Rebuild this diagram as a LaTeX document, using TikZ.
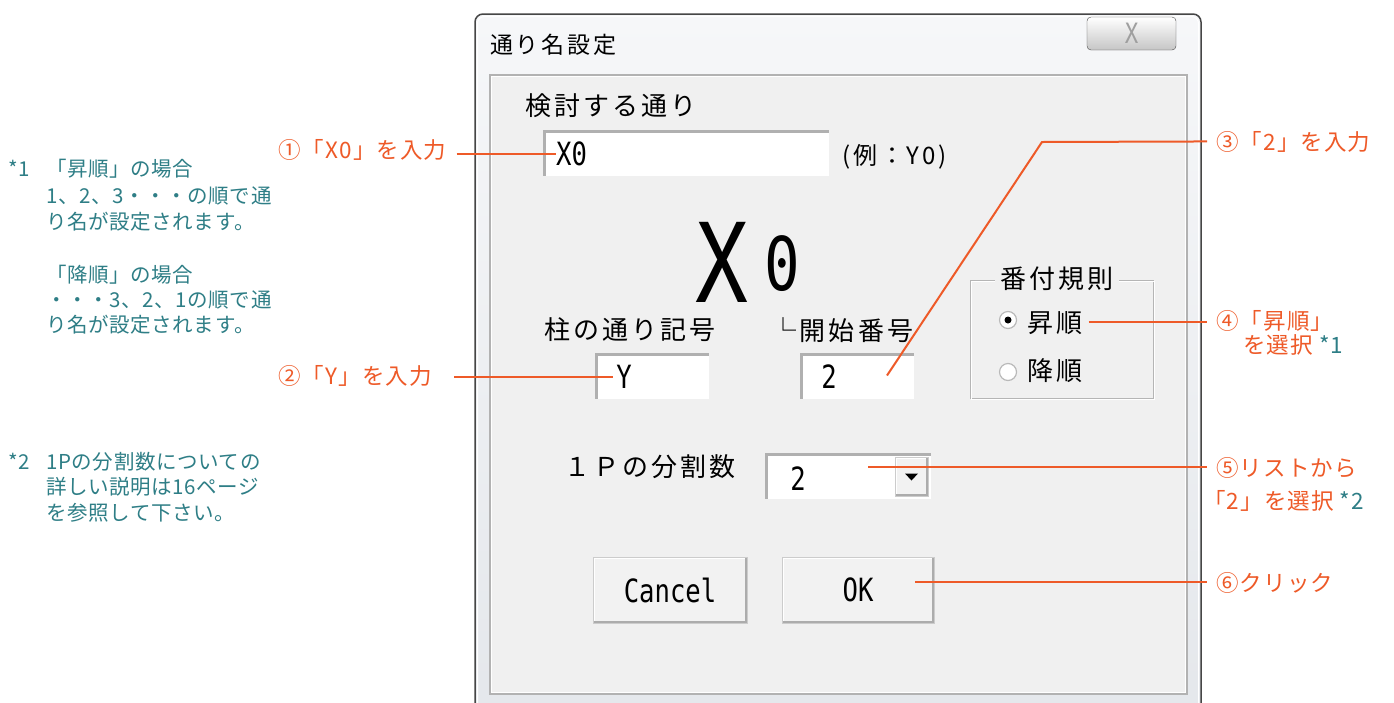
\documentclass[tikz,border=0pt]{standalone}
\usepackage{fontspec}
\setmainfont{Noto Sans CJK JP}
\newfontfamily\jp{Noto Sans CJK JP}
\newfontfamily\cof[LetterSpace=5]{Noto Sans CJK JP}
\newfontfamily\ntf[LetterSpace=3]{Noto Sans CJK JP}
\newfontfamily\dlg[LetterSpace=12]{Noto Sans CJK JP}
\newfontfamily\dmono[FakeStretch=0.8]{DejaVu Sans Mono}
\usetikzlibrary{calc}
\definecolor{callout}{RGB}{238,90,40}
\definecolor{note}{RGB}{46,126,134}
\definecolor{dlgbg}{RGB}{240,240,240}
\definecolor{winframe}{RGB}{70,70,70}
\definecolor{btnface}{RGB}{242,242,242}
\tikzset{
  lbl/.style={font=\dlg\fontsize{26}{26}\selectfont, inner sep=0},
  lat/.style={font=\dmono\fontsize{32}{32}\selectfont, inner sep=0},
  co/.style={draw=callout, line width=2pt},
  cotext/.style={font=\cof\fontsize{22.5}{22.5}\selectfont, text=callout, inner sep=0, anchor=base west},
  notetext/.style={font=\ntf\fontsize{20.5}{20.5}\selectfont, text=note, inner sep=0, anchor=base west},
  sunken/.style={rectangle, fill=white, inner sep=0,
    path picture={
      \draw[line width=5pt, gray!62] (path picture bounding box.south west) -- (path picture bounding box.north west) -- (path picture bounding box.north east);
      \draw[line width=3pt, gray!12] (path picture bounding box.north east) -- (path picture bounding box.south east) -- (path picture bounding box.south west);
    }},
  raised/.style={rectangle, fill=btnface, inner sep=0, draw=gray!40,
    path picture={
      \draw[line width=3pt, white] (path picture bounding box.south west) -- (path picture bounding box.north west) -- (path picture bounding box.north east);
      \draw[line width=5pt, gray!65] (path picture bounding box.north east) -- (path picture bounding box.south east) -- (path picture bounding box.south west);
    }},
}
\begin{document}
\begin{tikzpicture}[x=1pt,y=-1pt]
\useasboundingbox (0,0) rectangle (1394,702);
\fill[white] (0,0) rectangle (1394,702);

% ---------- window ----------
\draw[draw=winframe, line width=1.5pt, rounded corners=8pt,
      top color={rgb,255:red,246;green,247;blue,249}, bottom color={rgb,255:red,228;green,231;blue,235}]
  (475,14) rectangle (1201,730);
\draw[white, line width=1pt, rounded corners=7pt] (477.5,16.5) rectangle (1198.5,728);
\draw[draw=gray!60, line width=1.5pt, fill=dlgbg] (490,75) rectangle (1187,694);
\draw[white, line width=1pt] (491.5,76.5) rectangle (1185.5,692.5);

\node[anchor=west, font=\dlg\fontsize{23}{23}\selectfont, inner sep=0] (title) at (490,45) {通り名設定};
\node[rectangle, rounded corners=4pt, draw=gray!60!black, top color=white, bottom color=gray!45,
      minimum width=89pt, minimum height=33pt] (closebtn) at (1131.5,33.5) {};
\node[font=\dmono\fontsize{28}{28}\selectfont, text=gray!75, inner sep=0] (closex) at (closebtn.center) {X};

% ---------- 検討する通り ----------
\node[lbl] (lblcheck) at (611,106) {検討する通り};
\node[sunken, minimum width=287pt, minimum height=47pt] (bx0) at (686.5,153.5) {};
\node[lat, anchor=west] (tx0) at (556,153.5) {X0};
\node[lbl, anchor=west, font=\dlg\fontsize{24}{24}\selectfont] (example) at (842,157) {(例：Y0)};

% ---------- big X0 ----------
\node[font=\dmono\fontsize{110}{110}\selectfont, inner sep=0] (bigx) at (721.5,262) {X};
\node[font=\dmono\fontsize{74}{74}\selectfont, inner sep=0] (bigzero) at (782,263.5) {0};

% ---------- 柱の通り記号 / 開始番号 ----------
\node[lbl] (lblsym) at (630,330) {柱の通り記号};
\node[lbl] (lblstart) at (842,330) {└開始番号};
\node[sunken, minimum width=115pt, minimum height=47pt] (by) at (652.5,376.5) {};
\node[lat] (ty) at (624,377) {Y};
\node[sunken, minimum width=115pt, minimum height=47pt] (b2) at (857.5,376.5) {};
\node[lat] (t2) at (829,377) {2};

% ---------- 番付規則 ----------
\draw[gray!58] (970,280) rectangle (1153,398);
\draw[white] (971,281) rectangle (1154,399);
\node[lbl, fill=dlgbg, inner xsep=5pt] (lblrule) at (1057,279) {番付規則};
\node[circle, draw=gray!55, line width=1.2pt, fill=white, minimum size=17pt, inner sep=0] (r1) at (1008,320) {};
\fill (r1.center) circle (3.5);
\node[circle, draw=gray!55, line width=1.2pt, fill=white, minimum size=17pt, inner sep=0] (r2) at (1008,372) {};
\node[lbl, anchor=west] (asc) at (1027,323) {昇順};
\node[lbl, anchor=west] (desc) at (1027,371) {降順};

% ---------- 1Pの分割数 ----------
\node[lbl] (lbldiv) at (650,467) {１Ｐの分割数};
\node[sunken, minimum width=167pt, minimum height=47pt] (cmb) at (848.5,476.5) {};
\node[lat] (tcmb) at (798,479) {2};
\node[raised, minimum width=33pt, minimum height=39pt] (dd) at (911.5,476.5) {};
\fill ($(dd.center)+(-6.5,-3)$) -- ($(dd.center)+(6.5,-3)$) -- ($(dd.center)+(0,4)$) -- cycle;

% ---------- buttons ----------
\node[raised, minimum width=154pt, minimum height=66pt] (cancel) at (670,590) {};
\node[lat] (tcancel) at (cancel.center) {Cancel};
\node[raised, minimum width=152pt, minimum height=66pt] (okbtn) at (858,590) {};
\node[lat] (tok) at (okbtn.center) {OK};

% ---------- notes ----------
\node[notetext] (n1star) at (8,176) {*1};
\node[notetext] (n1a) at (46,176) {「昇順」の場合};
\node[notetext] (n1b) at (46,203) {1、2、3・・・の順で通};
\node[notetext] (n1c) at (46,229) {り名が設定されます。};
\node[notetext] (n1d) at (46,282) {「降順」の場合};
\node[notetext] (n1e) at (46,307) {・・・3、2、1の順で通};
\node[notetext] (n1f) at (46,332) {り名が設定されます。};
\node[notetext] (n2star) at (8,469) {*2};
\node[notetext] (n2a) at (46,469) {1Pの分割数についての};
\node[notetext] (n2b) at (46,494) {詳しい説明は16ページ};
\node[notetext] (n2c) at (46,520) {を参照して下さい。};

% ---------- callouts ----------
\node[cotext] (c1) at (278,158) {①「X0」を入力};
\node[cotext] (c2) at (278,384) {②「Y」を入力};
\node[cotext] (c3) at (1216,150) {③「2」を入力};
\node[cotext] (c4a) at (1216,329) {④「昇順」};
\node[cotext] (c4b) at (1243,353) {を選択 \textcolor{note}{*1}};
\node[cotext] (c5a) at (1216,476) {⑤リストから};
\node[cotext] (c5b) at (1203,509) {「2」を選択 \textcolor{note}{*2}};
\node[cotext] (c6) at (1216,591) {⑥クリック};

\coordinate (a1) at ($(c1.east |- tx0.west)+(10,0)$);
\draw[co] (a1) -- (tx0.west);
\coordinate (a2) at ($(c2.east |- ty.west)+(22,0)$);
\draw[co] (a2) -- ($(ty.west)+(-3,0)$);
\coordinate (bend3) at (1042,142);
\draw[co] ($(c3.west)+(-9,0)$ |- bend3) -- (bend3) -- ($(b2.center)+(29.5,-1)$);
\coordinate (p4) at ($(asc.east)+(6,-1)$);
\draw[co] (p4) -- ($(p4 -| c4a.west)+(-9,0)$);
\coordinate (p5) at ($(cmb.center)+(19.5,-9.5)$);
\draw[co] (p5) -- ($(p5 -| c5a.west)+(-9,0)$);
\coordinate (p6) at ($(okbtn.center)+(57,-8)$);
\draw[co] (p6) -- ($(p6 -| c6.west)+(-9,0)$);
\end{tikzpicture}
\end{document}
